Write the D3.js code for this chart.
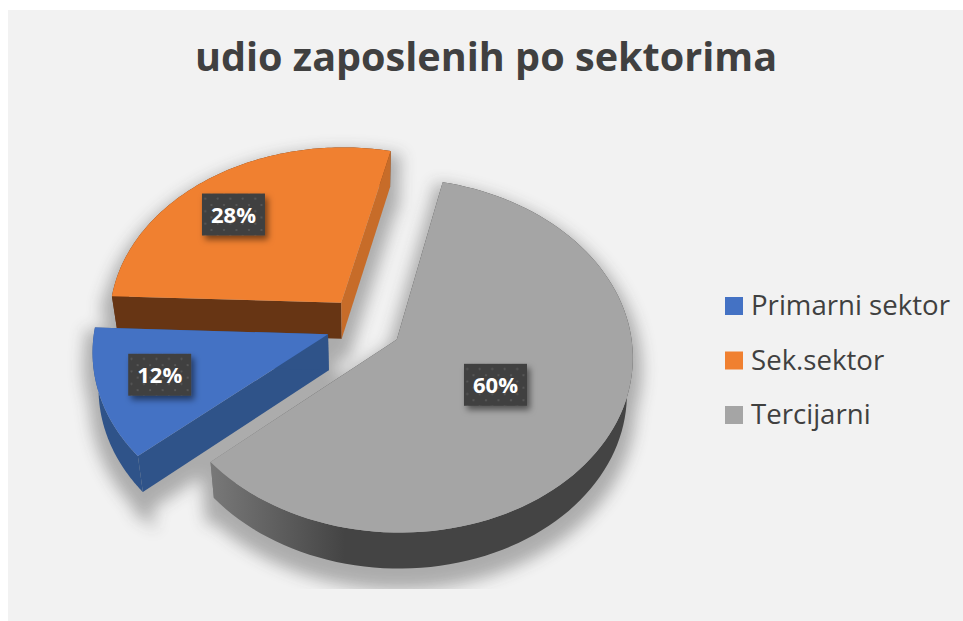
<!DOCTYPE html>
<html><head><meta charset="utf-8">
<script src="https://cdn.jsdelivr.net/npm/d3@7"></script>
<style>html,body{margin:0;padding:0;background:#fff}svg{display:block}</style>
</head><body><svg id="c" width="963" height="621"></svg>
<script>
const categories = ["Primarni sektor","Sek.sektor","Tercijarni"];
const shares = [12,28,60];
const labels = ["12%","28%","60%"];
const title = "udio zaposlenih po sektorima";
const topColors = ["#4472c4","#f08030","#a5a5a5"];
const startFaceColors = ["#2f5389","#673514","url(#terRim)"];
const endFaceColors = ["#2f5389","#c76c29","url(#terRim)"];
const rimColors = ["#2f5389","#673514","url(#terRim)"];
const labelRadius = [0.75,0.68,0.49];
const labelNudgeX = [2,-18,-3];
const labelNudgeY = [-4,-1,0];

const W=963,H=621;
const cx=364,cy=324.8,R=233,K=0.7425,P=0.09,EXPL=0.163,DEPTH=36,SHRINK=0.022;
const rotation=229*Math.PI/180;
const svg=d3.select("#c");
const defs=svg.append("defs");
const rg=defs.append("linearGradient").attr("id","terRim").attr("gradientUnits","userSpaceOnUse")
  .attr("x1",207).attr("x2",345).attr("y1",0).attr("y2",0);
rg.append("stop").attr("offset",0).attr("stop-color","#7a7a7a");
rg.append("stop").attr("offset",1).attr("stop-color","#444444");
const blur=defs.append("filter").attr("id","soft").attr("x","-20%").attr("y","-20%").attr("width","140%").attr("height","140%");
blur.append("feGaussianBlur").attr("stdDeviation",8);
const bs=defs.append("filter").attr("id","boxShadow").attr("x","-30%").attr("y","-30%").attr("width","170%").attr("height","170%");
bs.append("feDropShadow").attr("dx",3).attr("dy",4).attr("stdDeviation",3).attr("flood-color","#000").attr("flood-opacity",0.5);
const pat=defs.append("pattern").attr("id","dots").attr("width",12.5).attr("height",12.5).attr("patternUnits","userSpaceOnUse");
pat.append("rect").attr("width",12.5).attr("height",12.5).attr("fill","#404040");
pat.append("circle").attr("cx",3).attr("cy",3).attr("r",1.1).attr("fill","#5a5a5a");
pat.append("circle").attr("cx",9.25).attr("cy",9.25).attr("r",1.1).attr("fill","#5a5a5a");
defs.append("clipPath").attr("id","shadowClip").append("rect").attr("x",8).attr("y",10).attr("width",W-8).attr("height",579);

svg.append("rect").attr("x",8).attr("y",10).attr("width",W-8).attr("height",H-10).attr("fill","#f2f2f2");

svg.append("text").attr("x",486).attr("y",71).attr("text-anchor","middle")
  .attr("font-family","'Open Sans',sans-serif").attr("font-weight",700).attr("font-size",39.6)
  .attr("fill","#404040").text(title);

const pie=d3.pie().sort(null).startAngle(rotation).endAngle(rotation+2*Math.PI);
const slices=pie(shares).map((d,i)=>({...d,i,mid:(d.startAngle+d.endAngle)/2}));

function project(s,a,r,z){
  const X=Math.sin(s.mid)*EXPL+Math.sin(a)*r, Y=Math.cos(s.mid)*EXPL+Math.cos(a)*r;
  const f=1/(1+P*Y);
  const x=cx+R*X*f, y=cy-R*K*Y*f;
  return [cx+(x-cx)*(1-SHRINK*z), y+DEPTH*z];
}
const line=d3.line();
const rimAngles=s=>d3.range(0,101).map(t=>s.startAngle+(s.endAngle-s.startAngle)*t/100);
const topShape=s=>line([project(s,0,0,0),...rimAngles(s).map(a=>project(s,a,1,0))])+"Z";
const rimBand=s=>line([...rimAngles(s).map(a=>project(s,a,1,0)),...rimAngles(s).reverse().map(a=>project(s,a,1,1))])+"Z";
const radial=(s,a)=>line([project(s,0,0,0),project(s,a,1,0),project(s,a,1,1),project(s,0,0,1)])+"Z";

const shadow=svg.append("g").attr("clip-path","url(#shadowClip)").append("g")
  .attr("filter","url(#soft)").attr("transform","translate(0,12)").attr("opacity",0.36);
slices.forEach(s=>{
  [topShape(s),rimBand(s),radial(s,s.startAngle),radial(s,s.endAngle)].forEach(d=>
    shadow.append("path").attr("d",d).attr("fill","#333").attr("stroke","#333").attr("stroke-width",18));
});

const order=[1,0,2];
order.forEach(i=>{
  const s=slices[i], g=svg.append("g");
  g.append("path").attr("d",rimBand(s)).attr("fill",rimColors[i]);
  g.append("path").attr("d",radial(s,s.startAngle)).attr("fill",startFaceColors[i]);
  g.append("path").attr("d",radial(s,s.endAngle)).attr("fill",endFaceColors[i]);
  g.append("path").attr("d",topShape(s)).attr("fill",topColors[i]);
});

slices.forEach((s,i)=>{
  const [x,y]=project(s,s.mid,labelRadius[i],0);
  const g=svg.append("g").attr("transform",`translate(${x+labelNudgeX[i]},${y+labelNudgeY[i]})`);
  g.append("rect").attr("x",-31.5).attr("y",-21).attr("width",63).attr("height",42)
    .attr("fill","url(#dots)").attr("filter","url(#boxShadow)");
  g.append("text").attr("text-anchor","middle").attr("y",8)
    .attr("font-family","'Open Sans',sans-serif").attr("font-weight",700).attr("font-size",22)
    .attr("fill","#fff").text(labels[i]);
});

const ly=d3.scalePoint().domain(categories).range([306,415]);
const leg=svg.append("g").selectAll("g").data(categories).join("g")
  .attr("transform",d=>`translate(725,${ly(d)})`);
leg.append("rect").attr("x",0).attr("y",-9).attr("width",18).attr("height",18).attr("fill",(d,i)=>topColors[i]);
leg.append("text").attr("x",26).attr("y",9).attr("font-family","'Open Sans',sans-serif").attr("font-size",27.6)
  .attr("fill","#404040").text(d=>d);
</script></body></html>
